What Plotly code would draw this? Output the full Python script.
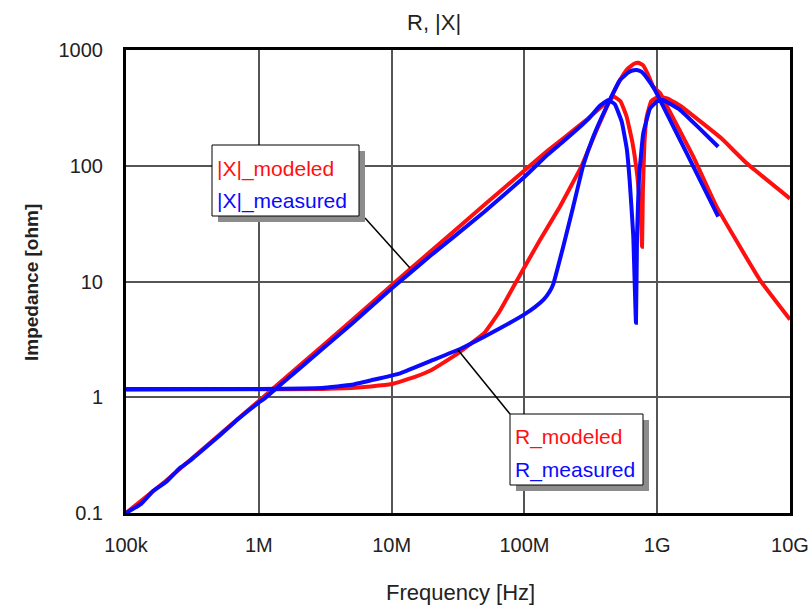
import plotly.graph_objects as go

# ---------------- data ----------------
freq_x_mod = [1e5, 2e5, 5e5, 1e6, 2e6, 5e6, 1e7, 2e7, 5e7, 1e8, 1.5e8, 2e8, 3e8, 4e8, 4.73e8,
              5.3e8, 5.89e8, 6.5e8, 7.1e8, 7.5e8, 7.69e8, 7.8e8, 8.0e8, 8.34e8, 9.0e8, 1.02e9,
              1.2e9, 1.49e9, 1.87e9, 3.0e9, 4.72e9, 1e10]
x_mod = [0.1, 0.19, 0.47, 0.93, 1.85, 4.6, 9.3, 18.5, 46, 91, 135, 175, 255, 340, 395,
         360, 265, 160, 80, 40, 20, 60, 150, 265, 360, 395,
         380, 330, 270, 175, 105, 52]

freq_x_meas = [1e5, 1.3e5, 1.6e5, 2e5, 2.5e5, 3e5, 4e5, 5e5, 7e5, 1e6, 1.1e6, 2e6, 5e6, 1e7,
               2e7, 5e7, 1e8, 1.5e8, 2e8, 3e8, 3.7e8, 4.28e8, 4.8e8, 5.41e8, 5.9e8, 6.2e8,
               6.6e8, 6.92e8, 7.05e8, 7.3e8, 7.85e8, 8.83e8, 1.0e9, 1.1e9, 1.49e9, 2.0e9, 2.88e9]
x_meas = [0.1, 0.12, 0.155, 0.185, 0.24, 0.28, 0.37, 0.46, 0.65, 0.9, 0.97, 1.75, 4.3, 8.7,
          17, 40, 80, 125, 165, 250, 330, 370, 340, 240, 140, 75,
          25, 4.4, 25, 80, 190, 313, 360, 370, 303, 220, 146]

freq_r_mod = [1e5, 1e6, 3e6, 5e6, 7e6, 1e7, 1.5e7, 2e7, 3e7, 5e7, 6.5e7, 9.27e7, 1.31e8,
              1.85e8, 2.7e8, 3.5e8, 4.41e8, 5.25e8, 6.0e8, 6.7e8, 7.21e8, 7.8e8, 8.5e8, 9.35e8,
              1.05e9, 1.2e9, 1.87e9, 2.8e9, 5.94e9, 1e10]
r_mod = [1.16, 1.17, 1.18, 1.2, 1.24, 1.3, 1.5, 1.72, 2.3, 3.6, 5.5, 11.4, 22.8,
         44.3, 100, 204, 370, 550, 690, 760, 776, 740, 620, 482,
         425, 317, 120, 44.3, 10.3, 4.7]

freq_r_meas = [1e5, 1e6, 3e6, 5e6, 7e6, 1.16e7, 2.06e7, 3.37e7, 4.9e7, 6.55e7, 1e8, 1.2e8,
               1.4e8, 1.55e8, 1.65e8, 1.96e8, 2.33e8, 2.77e8, 3.3e8, 4.05e8, 5.25e8, 6.0e8,
               6.5e8, 7.0e8, 7.6e8, 8.4e8, 9.61e8, 1.2e9, 1.67e9, 2.88e9]
r_meas = [1.18, 1.18, 1.2, 1.28, 1.4, 1.61, 2.1, 2.65, 3.3, 3.94, 5.2, 6.0,
          7.0, 8.2, 9.5, 20, 44.3, 100, 178, 303, 550, 635,
          665, 672, 650, 570, 451, 272, 128, 36.3]

x_tick_vals = [1e5, 1e6, 1e7, 1e8, 1e9, 1e10]
x_tick_text = ["100k", "1M", "10M", "100M", "1G", "10G"]
y_tick_vals = [0.1, 1, 10, 100, 1000]
y_tick_text = ["0.1", "1", "10", "100", "1000"]

RED = "#ff1010"
BLUE = "#0a0aff"
FONT = "Liberation Sans, Arial, sans-serif"

fig = go.Figure()
fig.add_trace(go.Scatter(x=freq_x_mod, y=x_mod, mode="lines", name="|X|_modeled",
                         line=dict(color=RED, width=4, shape="spline", smoothing=0.3)))
fig.add_trace(go.Scatter(x=freq_r_mod, y=r_mod, mode="lines", name="R_modeled",
                         line=dict(color=RED, width=4, shape="spline", smoothing=0.3)))
fig.add_trace(go.Scatter(x=freq_x_meas, y=x_meas, mode="lines", name="|X|_measured",
                         line=dict(color=BLUE, width=4, shape="spline", smoothing=0.3)))
fig.add_trace(go.Scatter(x=freq_r_meas, y=r_meas, mode="lines", name="R_measured",
                         line=dict(color=BLUE, width=4, shape="spline", smoothing=0.3)))

W, H = 811, 608
L, R, T, B = 126, 21, 50, 95
PW, PH = W - L - R, H - T - B


def px(x):
    return (x - L) / PW


def py(y):
    return (H - B - y) / PH


shapes = []
# leader lines
shapes.append(dict(type="line", xref="paper", yref="paper", x0=px(365), y0=py(218),
                   x1=px(410), y1=py(268), line=dict(color="black", width=1.5)))
shapes.append(dict(type="line", xref="paper", yref="paper", x0=px(458), y0=py(350),
                   x1=px(510), y1=py(414), line=dict(color="black", width=1.5)))
# boxes with shadow
for (bx0, by0, bx1, by1) in [(212, 145, 359, 216), (510, 414, 643, 485)]:
    shapes.append(dict(type="rect", xref="paper", yref="paper",
                       x0=px(bx0 + 6), x1=px(bx1 + 6), y0=py(by1 + 6), y1=py(by0 + 6),
                       fillcolor="#8c8c8c", line=dict(width=0)))
    shapes.append(dict(type="rect", xref="paper", yref="paper",
                       x0=px(bx0), x1=px(bx1), y0=py(by1), y1=py(by0),
                       fillcolor="white", line=dict(color="black", width=1)))

annotations = []
for txt, col, x, y in [("|X|_modeled", RED, 215, 169), ("|X|_measured", BLUE, 215, 201),
                       ("R_modeled", RED, 513, 437), ("R_measured", BLUE, 513, 470)]:
    annotations.append(dict(text=txt, xref="paper", yref="paper", x=px(x), y=py(y),
                            xanchor="left", yanchor="middle", showarrow=False,
                            font=dict(family=FONT, size=21, color=col)))
# title
annotations.append(dict(text="R, |X|", xref="paper", yref="paper", x=px(434), y=py(22),
                        xanchor="center", yanchor="middle", showarrow=False,
                        font=dict(family=FONT, size=22, color="#222")))
# axis titles
annotations.append(dict(text="Frequency [Hz]", xref="paper", yref="paper", x=px(460), y=py(592),
                        xanchor="center", yanchor="middle", showarrow=False,
                        font=dict(family=FONT, size=22, color="#222")))
annotations.append(dict(text="<b>Impedance [ohm]</b>", xref="paper", yref="paper",
                        x=px(31), y=py(283), textangle=-90,
                        xanchor="center", yanchor="middle", showarrow=False,
                        font=dict(family=FONT, size=19, color="#222")))

fig.update_layout(
    width=W, height=H,
    margin=dict(l=L, r=R, t=T, b=B, autoexpand=False),
    paper_bgcolor="white", plot_bgcolor="white",
    showlegend=False,
    shapes=shapes, annotations=annotations,
    font=dict(family=FONT, color="#222"),
)
fig.update_xaxes(type="log", range=[5, 10], tickvals=x_tick_vals, ticktext=x_tick_text,
                 automargin=False,
                 showgrid=True, gridcolor="#555555", gridwidth=1.5,
                 showline=True, linecolor="black", linewidth=3, mirror=True,
                 ticks="outside", ticklen=12, tickcolor="rgba(0,0,0,0)",
                 tickfont=dict(family=FONT, size=20, color="#222"),
                 zeroline=False)
fig.update_yaxes(type="log", range=[-1, 3], tickvals=y_tick_vals, ticktext=y_tick_text,
                 automargin=False,
                 showgrid=True, gridcolor="#555555", gridwidth=1.5,
                 showline=True, linecolor="black", linewidth=3, mirror=True,
                 ticks="outside", ticklen=16, tickcolor="rgba(0,0,0,0)",
                 tickfont=dict(family=FONT, size=20, color="#222"),
                 zeroline=False)

fig.write_html("out.html", config={"displayModeBar": False},
               post_script="document.body.style.margin='0';document.body.style.overflow='hidden';")
